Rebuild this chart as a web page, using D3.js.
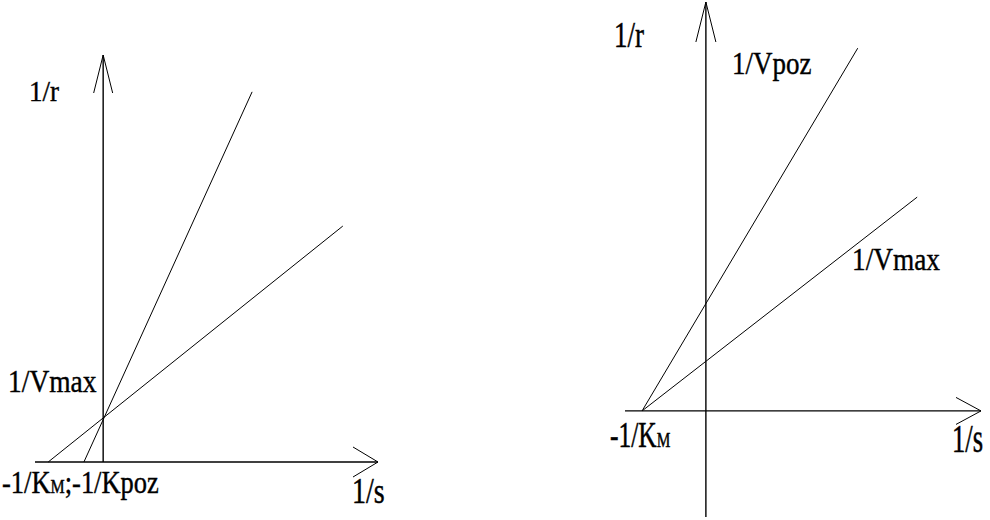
<!DOCTYPE html>
<html>
<head>
<meta charset="utf-8">
<script src="https://cdn.jsdelivr.net/npm/d3@7"></script>
<style>
  html, body { margin: 0; padding: 0; background: #fff; }
  svg { display: block; }
  text { font-family: "Liberation Serif", "Times New Roman", serif; fill: #000; stroke: #000; stroke-width: 0.35px; }
</style>
</head>
<body>
<div id="chart"></div>
<script>
"use strict";

// Left plot: competitive inhibition (lines cross on the 1/r axis)
var leftAxisX = [-1.24, 5.0];
var leftAxisY = [0, 7.4];
var leftLineKm = [{ x: -1.0, y: 0 }, { x: 4.36, y: 4.29 }];
var leftLineKpoz = [{ x: -0.35, y: 0 }, { x: 2.71, y: 6.73 }];

// Right plot: non-competitive inhibition (lines cross on the 1/s axis)
var rightAxisX = [-1.47, 5.0];
var rightAxisY = [-1.93, 7.44];
var rightLineVpoz = [{ x: -1.16, y: 0 }, { x: 2.76, y: 6.6 }];
var rightLineVmax = [{ x: -1.16, y: 0 }, { x: 3.84, y: 3.89 }];

var axisLabels = { y: "1/r", x: "1/s" };

var width = 990, height = 520;
var svg = d3.select("#chart").append("svg")
    .attr("width", width)
    .attr("height", height);

function drawPanel(opts) {
    var x = d3.scaleLinear().domain(opts.xDomain).range(opts.xRange);
    var y = d3.scaleLinear().domain(opts.yDomain).range(opts.yRange);
    var g = svg.append("g");
    var path = d3.line()
        .x(function (d) { return x(d.x); })
        .y(function (d) { return y(d.y); });

    // axes as plain lines with open arrow heads
    g.append("line")
        .attr("x1", x(opts.xDomain[0])).attr("x2", x(opts.xDomain[1]))
        .attr("y1", y(0)).attr("y2", y(0))
        .attr("stroke", "#000").attr("stroke-width", 1.4);
    g.append("line")
        .attr("x1", x(0)).attr("x2", x(0))
        .attr("y1", y(opts.yDomain[0])).attr("y2", y(opts.yDomain[1]))
        .attr("stroke", "#000").attr("stroke-width", 1.4);

    var xt = [x(opts.xDomain[1]), y(0)];
    var yt = [x(0), y(opts.yDomain[1])];
    var a = opts.arrow;
    var heads = [
        [[xt[0] - a.xBack, xt[1] - a.xSide], xt, [xt[0] - a.xBack, xt[1] + a.xSide]],
        [[yt[0] - a.ySide, yt[1] + a.yBack], yt, [yt[0] + a.ySide, yt[1] + a.yBack]]
    ];
    g.selectAll("path.head")
      .data(heads)
      .enter()
      .append("path")
        .attr("class", "head")
        .attr("d", function (d) { return d3.line()(d); })
        .attr("fill", "none")
        .attr("stroke", "#000")
        .attr("stroke-width", 1);

    g.selectAll("path.plot")
      .data(opts.lines)
      .enter()
      .append("path")
        .attr("class", "plot")
        .attr("d", path)
        .attr("fill", "none")
        .attr("stroke", "#000")
        .attr("stroke-width", 1);

    return { x: x, y: y, g: g };
}

// text label, stretched vertically like the original drawing
function label(g, px, py, size, sy, parts) {
    var t = g.append("text")
        .attr("transform", "translate(" + px + "," + py + ") scale(1," + sy + ")")
        .style("font-size", size + "px");
    parts.forEach(function (p) {
        t.append("tspan")
            .style("font-size", p.small ? (size * 0.6) + "px" : null)
            .text(p.text);
    });
}

var left = drawPanel({
    xDomain: leftAxisX, yDomain: leftAxisY,
    xRange: [35, 378], yRange: [462, 55],
    lines: [leftLineKm, leftLineKpoz],
    arrow: { xBack: 25, xSide: 15, yBack: 38, ySide: 9.5 }
});

var right = drawPanel({
    xDomain: rightAxisX, yDomain: rightAxisY,
    xRange: [625, 981], yRange: [517, 2],
    lines: [rightLineVpoz, rightLineVmax],
    arrow: { xBack: 25, xSide: 13.5, yBack: 40, ySide: 10 }
});

// left panel labels
label(left.g, 29, 101, 27, 1.1, [{ text: axisLabels.y }]);
label(left.g, 8, 392, 27.5, 1.12, [{ text: "1/Vmax" }]);
label(left.g, 2, 493, 26.5, 1.22, [
    { text: "-1/K" }, { text: "M", small: true }, { text: ";-1/Kpoz" }
]);
label(left.g, 352, 503, 28, 1.3, [{ text: axisLabels.x }]);

// right panel labels
label(right.g, 614, 47, 27, 1.3, [{ text: axisLabels.y }]);
label(right.g, 732, 74, 27, 1.14, [{ text: "1/Vpoz" }]);
label(right.g, 852, 270, 27.3, 1.17, [{ text: "1/Vmax" }]);
label(right.g, 610, 447, 25.5, 1.4, [{ text: "-1/K" }, { text: "M", small: true }]);
label(right.g, 952, 452, 26.6, 1.5, [{ text: axisLabels.x }]);
</script>
</body>
</html>
